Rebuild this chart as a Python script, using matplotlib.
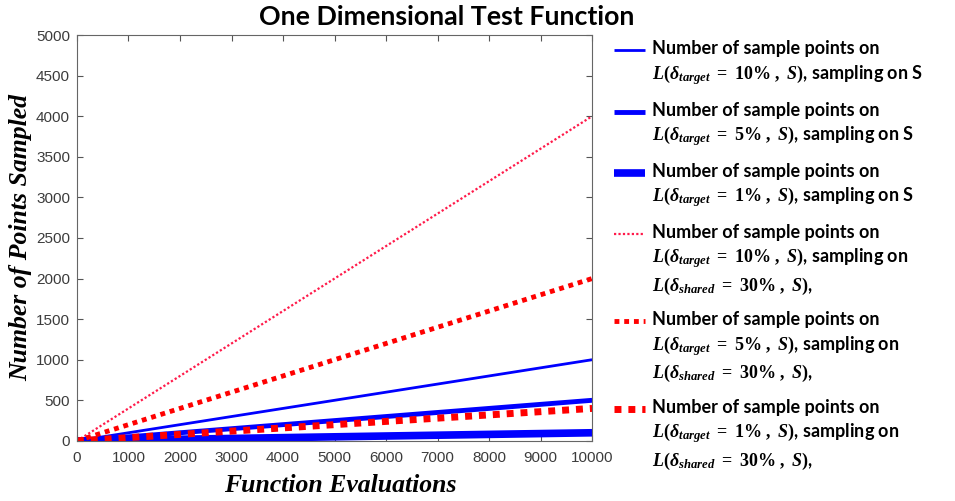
import matplotlib
matplotlib.use("Agg")
import matplotlib.pyplot as plt
import numpy as np

# Function evaluations (x) and number of points sampled for each strategy
evaluations = [0, 1000, 2000, 3000, 4000, 5000, 6000, 7000, 8000, 9000, 10000]
target10_on_S = [0, 100, 200, 300, 400, 500, 600, 700, 800, 900, 1000]
target5_on_S = [0, 50, 100, 150, 200, 250, 300, 350, 400, 450, 500]
target1_on_S = [0, 10, 20, 30, 40, 50, 60, 70, 80, 90, 100]
target10_on_shared = [0, 400, 800, 1200, 1600, 2000, 2400, 2800, 3200, 3600, 4000]
target5_on_shared = [0, 200, 400, 600, 800, 1000, 1200, 1400, 1600, 1800, 2000]
target1_on_shared = [0, 40, 80, 120, 160, 200, 240, 280, 320, 360, 400]

x_ticks = [0, 1000, 2000, 3000, 4000, 5000, 6000, 7000, 8000, 9000, 10000]
y_ticks = [0, 500, 1000, 1500, 2000, 2500, 3000, 3500, 4000, 4500, 5000]

plt.rcParams["mathtext.fontset"] = "custom"
plt.rcParams["mathtext.rm"] = "Liberation Serif:bold"
plt.rcParams["mathtext.bf"] = "Liberation Serif:bold"
plt.rcParams["mathtext.it"] = "Liberation Serif:italic:bold"
plt.rcParams["mathtext.bfit"] = "Liberation Serif:italic:bold"

DPI = 100
fig = plt.figure(figsize=(9.55, 5.01), dpi=DPI)
ax = fig.add_axes([0.0806, 0.120, 0.5394, 0.810])

blue = "#0000ff"
red = "#ff0000"
pink = "#ff1a4a"

L10 = r"$\mathbfit{L}(\mathbfit{\delta_{target}}\ \mathbf{=\ 10\%\ ,\ }\mathbfit{S})$"
L5 = r"$\mathbfit{L}(\mathbfit{\delta_{target}}\ \mathbf{=\ 5\%\ ,\ }\mathbfit{S})$"
L1 = r"$\mathbfit{L}(\mathbfit{\delta_{target}}\ \mathbf{=\ 1\%\ ,\ }\mathbfit{S})$"
LS = r"$\mathbfit{L}(\mathbfit{\delta_{shared}}\ \mathbf{=\ 30\%\ ,\ }\mathbfit{S})$,"
head = "Number of sample points on\n"

series = [
    (target10_on_S, dict(color=blue, lw=2.0, ls="-"), head + L10 + ", sampling on S"),
    (target5_on_S, dict(color=blue, lw=3.5, ls="-"), head + L5 + ", sampling on S"),
    (target1_on_S, dict(color=blue, lw=5.5, ls="-"), head + L1 + ", sampling on S"),
    (target10_on_shared, dict(color=pink, lw=1.6, ls=(0, (1, 1))), head + L10 + ", sampling on\n" + LS),
    (target5_on_shared, dict(color=red, lw=3.5, ls=(0, (1, 1))), head + L5 + ", sampling on\n" + LS),
    (target1_on_shared, dict(color=red, lw=5.0, ls=(0, (1, 1))), head + L1 + ", sampling on\n" + LS),
]

lines = []
labels = []
for values, style, label in series:
    (ln,) = ax.plot(evaluations, values, solid_capstyle="butt", dash_capstyle="butt", **style)
    lines.append(ln)
    labels.append(label)

ax.set_xlim(0, 10000)
ax.set_ylim(0, 5000)
ax.set_xticks(x_ticks)
ax.set_yticks(y_ticks)
ax.tick_params(direction="in", top=True, right=True, length=4, width=0.8,
               colors="#555555", labelcolor="#3c3c3c", labelsize=11)
ax.tick_params(axis="x", pad=7)
ax.tick_params(axis="y", pad=5)
for lab in ax.get_xticklabels() + ax.get_yticklabels():
    lab.set_fontfamily("Liberation Sans")
for sp in ax.spines.values():
    sp.set_color("#666666")
    sp.set_linewidth(0.8)

fig.text(0.468, 0.967, "One Dimensional Test Function", fontsize=19.3,
         fontweight="bold", family="Lato", ha="center", va="center")
ax.set_xlabel("Function Evaluations", fontsize=18.5, fontweight="bold",
              fontstyle="italic", family="Liberation Serif", labelpad=7)
ax.xaxis.set_label_coords(0.512, -0.082)
ax.set_ylabel("Number of Points Sampled", fontsize=18.5, fontweight="bold",
              fontstyle="italic", family="Liberation Serif", labelpad=3)

leg = fig.legend(lines, labels,
                 loc="upper left", bbox_to_anchor=(0.626, 0.952), frameon=False,
                 prop={"family": "Lato", "weight": "bold", "size": 13},
                 handlelength=1.7, handletextpad=0.4, labelspacing=0.82)
for t in leg.get_texts():
    t.set_linespacing(1.34)

# Put each legend key beside the first line of its label
fig.canvas.draw()
renderer = fig.canvas.get_renderer()
for h, t in zip(leg.legend_handles, leg.get_texts()):
    tb = t.get_window_extent(renderer)
    hb = h.get_window_extent(renderer)
    target_y = tb.y1 - 10
    shift = (target_y - 0.5 * (hb.y0 + hb.y1)) * 72.0 / DPI
    h.set_ydata(np.asarray(h.get_ydata(), dtype=float) + shift)

fig.savefig("out.png", dpi=DPI)
